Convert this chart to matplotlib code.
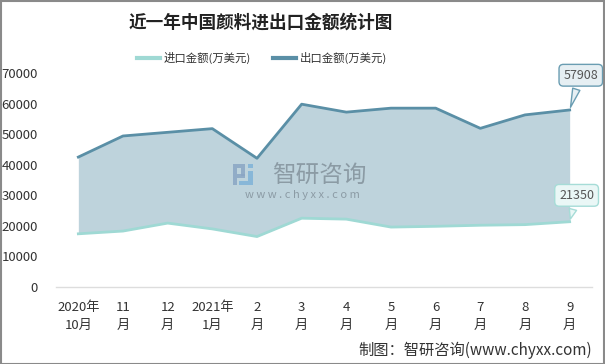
import matplotlib
matplotlib.use("Agg")
import matplotlib.pyplot as plt
from matplotlib.patches import Rectangle

plt.rcParams['font.family'] = ['Noto Sans CJK SC', 'DejaVu Sans']

categories = ["2020年\n10月", "11\n月", "12\n月", "2021年\n1月", "2\n月", "3\n月",
              "4\n月", "5\n月", "6\n月", "7\n月", "8\n月", "9\n月"]
export_vals = [42500, 49400, 50600, 51800, 42100, 59800, 57200, 58500, 58500, 51900, 56300, 57908]
import_vals = [17400, 18300, 20900, 19000, 16500, 22500, 22200, 19600, 19850, 20200, 20400, 21350]
yticks = [0, 10000, 20000, 30000, 40000, 50000, 60000, 70000]

title = "近一年中国颜料进出口金额统计图"
export_label = "出口金额(万美元)"
import_label = "进口金额(万美元)"
source = "制图：智研咨询(www.chyxx.com)"

W, H = 605, 364
fig = plt.figure(figsize=(W / 100, H / 100), dpi=100)
ax = fig.add_axes([56 / W, 1 - 287 / H, (592 - 56) / W, (287 - 73) / H])

x = list(range(len(categories)))
c_exp = "#5a8fa6"
c_imp = "#9fd9d4"
c_fill = "#bed3dc"

ax.fill_between(x, import_vals, export_vals, color=c_fill, lw=0, zorder=1)
ax.plot(x, import_vals, color=c_imp, lw=2, zorder=3, label=import_label)
ax.plot(x, export_vals, color=c_exp, lw=2, zorder=3, label=export_label)

ax.set_xlim(-0.5, len(categories) - 0.5)
ax.set_ylim(0, 70000)
ax.set_yticks(yticks)
ax.set_yticklabels([str(v) for v in yticks], fontsize=9.5, color="#333333")
ax.set_xticks(x)
ax.set_xticklabels(categories, fontsize=9.5, color="#333333", linespacing=1.5)
ax.tick_params(axis='both', length=0)
ax.tick_params(axis='y', pad=13)
ax.tick_params(axis='x', pad=10)
for s in ['top', 'right', 'left']:
    ax.spines[s].set_visible(False)
ax.spines['bottom'].set_color("#dddddd")
ax.spines['bottom'].set_linewidth(1)

# callouts
ax.annotate(str(export_vals[-1]), xy=(x[-1], export_vals[-1]), xytext=(8, 25),
            textcoords='offset points', ha='center', va='center', fontsize=9, color="#555555",
            bbox=dict(boxstyle='round,pad=0.35', fc="#e6eff3", ec="#6a9db2", lw=1),
            arrowprops=dict(arrowstyle='wedge,tail_width=0.6,shrink_factor=0.5', fc="#e6eff3",
                            ec="#6a9db2", lw=1), zorder=5)
ax.annotate(str(import_vals[-1]), xy=(x[-1], import_vals[-1]), xytext=(5, 19),
            textcoords='offset points', ha='center', va='center', fontsize=9, color="#555555",
            bbox=dict(boxstyle='round,pad=0.35', fc="#eaf7f6", ec="#a6dcd7", lw=1),
            arrowprops=dict(arrowstyle='wedge,tail_width=0.6,shrink_factor=0.5', fc="#eaf7f6",
                            ec="#a6dcd7", lw=1), zorder=5)

# legend
leg = fig.legend(loc='center', bbox_to_anchor=(262 / W, 1 - 58 / H), ncol=2, frameon=False,
                 fontsize=8.2, handlelength=2.0, handletextpad=0.3, columnspacing=2.0)
for t in leg.get_texts():
    t.set_color("#333333")
for l in leg.get_lines():
    l.set_linewidth(3)

# title
fig.text(261 / W, 1 - 23 / H, title, ha='center', va='center', fontsize=12.7,
         fontweight='bold', color="#222222")

# watermark
fig.text(319 / W, 1 - 176 / H, "智研咨询", ha='center', va='center', fontsize=17,
         color="#7f8d97", alpha=0.8, zorder=2)
fig.text(302 / W, 1 - 195 / H, "w w w . c h y x x . c o m", ha='center', va='center',
         fontsize=8, color="#7f8d97", alpha=0.8, zorder=2)
logo_x, logo_y = 233, 164
for (dx, dy, w, h, c) in [(0, 0, 12, 4, "#8aa6c4"), (0, 4, 4, 17, "#8aa6c4"), (8, 4, 4, 8, "#8aa6c4"),
                          (4, 10, 8, 4, "#8aa6c4"), (15, 0, 5, 4, "#7fb3d8"), (15, 7, 5, 14, "#7fb3d8"),
                          (6, 17, 9, 4, "#7fb3d8")]:
    fig.patches.append(Rectangle(((logo_x + dx) / W, 1 - (logo_y + dy + h) / H), w / W, h / H,
                                 transform=fig.transFigure, fc=c, ec='none', alpha=0.85, zorder=2))

# source
fig.text(592 / W, 1 - 350 / H, source, ha='right', va='center', fontsize=11, color="#333333")

# border
fig.patches.append(Rectangle((0.5 / W, 0.5 / H), 1 - 1.5 / W, 1 - 1.5 / H, transform=fig.transFigure,
                             fill=False, ec="#8a8a8a", lw=1.5))

fig.savefig("out.png", dpi=100)
